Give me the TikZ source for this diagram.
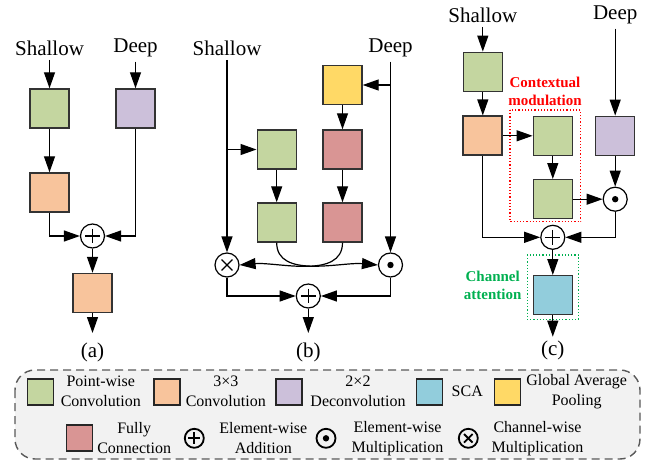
\documentclass[tikz,border=0pt]{standalone}
\usepackage{fontspec}
\setmainfont{Liberation Serif}
\usepackage{tikz}
\usetikzlibrary{calc}
\usetikzlibrary{arrows.meta}
\definecolor{pwgreen}{RGB}{196,214,160}
\definecolor{convorange}{RGB}{248,196,156}
\definecolor{deconvpurple}{RGB}{204,192,218}
\definecolor{gapyellow}{RGB}{255,217,102}
\definecolor{fcred}{RGB}{217,149,148}
\definecolor{scablue}{RGB}{146,205,220}
\definecolor{cmred}{RGB}{255,0,0}
\definecolor{cagreen}{RGB}{0,176,80}
\definecolor{legfill}{RGB}{242,242,242}
\tikzset{
  blk/.style={draw=black!80, line width=0.7pt, minimum size=19.5pt, inner sep=0pt},
  pwconv/.style={blk, fill=pwgreen},
  conv3/.style={blk, fill=convorange},
  deconv/.style={blk, fill=deconvpurple},
  gapool/.style={blk, fill=gapyellow},
  fcon/.style={blk, fill=fcred},
  scab/.style={blk, fill=scablue},
  legblk/.style={draw=black!85, line width=0.8pt, minimum size=13pt, inner sep=0pt},
  op/.style={circle, draw, line width=0.6pt, fill=white, minimum size=12pt, inner sep=0pt},
  legop/.style={circle, draw, line width=0.9pt, minimum size=9.5pt, inner sep=0pt},
  plussign/.style={path picture={
    \draw[black] ($(path picture bounding box.center)!0.62!(path picture bounding box.west)$) -- ($(path picture bounding box.center)!0.62!(path picture bounding box.east)$);
    \draw[black] ($(path picture bounding box.center)!0.62!(path picture bounding box.north)$) -- ($(path picture bounding box.center)!0.62!(path picture bounding box.south)$);}},
  crosssign/.style={path picture={
    \draw[black] ($(path picture bounding box.center)!0.45!(path picture bounding box.north west)$) -- ($(path picture bounding box.center)!0.45!(path picture bounding box.south east)$);
    \draw[black] ($(path picture bounding box.center)!0.45!(path picture bounding box.north east)$) -- ($(path picture bounding box.center)!0.45!(path picture bounding box.south west)$);}},
  dotsign/.style={path picture={\fill[black] (path picture bounding box.center) circle (1.6pt);}},
  addop/.style={op, plussign},
  mulop/.style={op, dotsign},
  chmulop/.style={op, crosssign},
  conn/.style={-{Triangle[length=8pt,width=5.5pt]}, line width=0.6pt},
  cmtxt/.style={text=cmred, font=\fontsize{7.5}{8.7}\selectfont\bfseries, align=center},
  catxt/.style={text=cagreen, font=\fontsize{7.5}{8.7}\selectfont\bfseries, align=center},
  legtxt/.style={font=\fontsize{8}{10}\selectfont, align=center, inner sep=1pt},
}

\begin{document}
\begin{tikzpicture}[x=0.5pt, y=-0.5pt, font=\fontsize{10.5}{12}\selectfont, inner sep=2pt]
        \useasboundingbox (0,0) rectangle (655,461);
        % (a)
        \node (sa) at (49.5,48) {Shallow};
        \node (da) at (135.5,48) {Deep};
        \node[pwconv] (a1) at (49.5,108.5) {};
        \node[deconv] (a2) at (135.5,108.5) {};
        \node[conv3] (a3) at (49.5,192.5) {};
        \node[addop] (a4) at (92.5,236) {};
        \node[conv3] (a5) at (92.5,293) {};
        \coordinate (ao) at (92.5,333);
        \node (la) at (92.5,352) {(a)};
        \draw[conn] (sa) -- (a1);
        \draw[conn] (da) -- (a2);
        \draw[conn] (a1) -- (a3);
        \draw[conn] (a3) |- (a4);
        \draw[conn] (a2) |- (a4);
        \draw[conn] (a4) -- (a5);
        \draw[conn] (a5) -- (ao);
        % (b)
        \node (sb) at (227,48) {Shallow};
        \node (db) at (390.5,48) {Deep};
        \node[gapool] (b1) at (342.5,85) {};
        \node[pwconv] (b2) at (276.7,149.5) {};
        \node[fcon] (b3) at (342.5,149.5) {};
        \node[pwconv] (b4) at (276.7,222.5) {};
        \node[fcon] (b5) at (342.5,222.5) {};
        \node[chmulop] (b6) at (227,265) {};
        \node[mulop] (b7) at (390.5,265) {};
        \node[addop] (b8) at (308.3,296) {};
        \coordinate (bo) at (308.3,333);
        \node (lb) at (308.3,352) {(b)};
        \draw[conn] (sb) -- (b6);
        \draw[conn] (db) -- (b7);
        \draw[conn] (b1.east -| db) -- (b1);
        \draw[conn] (b2 -| sb) -- (b2);
        \draw[conn] (b1) -- (b3);
        \draw[conn] (b2) -- (b4);
        \draw[conn] (b3) -- (b5);
        \draw[conn] (b4.south) to[out=-90, in=175, looseness=0.9] (b7.west);
        \draw[conn] (b5.south) to[out=-90, in=5, looseness=0.9] (b6.east);
        \draw[conn] (b6) |- (b8);
        \draw[conn] (b7) |- (b8);
        \draw[conn] (b8) -- (bo);
        % (c)
        \node (sc) at (482.8,15) {Shallow};
        \node (dc) at (615.2,15) {Deep};
        \node[pwconv] (c1) at (482.8,71.8) {};
        \node[conv3, line width=0.9pt] (c2) at (482.8,135.8) {};
        \node[pwconv] (c3) at (552.8,135.8) {};
        \node[pwconv] (c4) at (552.8,199.2) {};
        \node[deconv] (c5) at (615.2,135.8) {};
        \node[mulop] (c6) at (615.2,199.2) {};
        \node[addop] (c7) at (552.8,237.3) {};
        \node[scab] (c8) at (552.8,295.2) {};
        \coordinate (co) at (552.8,336.7);
        \node (lc) at (552.8,350) {(c)};
        \draw[cmred, densely dotted, line width=0.6pt] (510,110) rectangle (580.7,221.7);
        \draw[cagreen, densely dotted, line width=0.6pt] (527.3,255) rectangle (578.3,319.3);
        \node[cmtxt] (cm) at (545,91.3) {Contextual\\modulation};
        \node[catxt] (ca) at (492.7,285.3) {Channel\\attention};
        \draw[conn] (sc) -- (c1);
        \draw[conn] (dc) -- (c5);
        \draw[conn] (c1) -- (c2);
        \draw[conn] (c2) -- (c3);
        \draw[conn] (c3) -- (c4);
        \draw[conn] (c4) -- (c6);
        \draw[conn] (c5) -- (c6);
        \draw[conn] (c2) |- (c7);
        \draw[conn] (c6) |- (c7);
        \draw[conn] (c7) -- (c8);
        \draw[conn] (c8) -- (co);
        % legend
        \draw[draw=black!65, fill=legfill, line width=0.7pt, dash pattern=on 4pt off 2.5pt, rounded corners=10pt] (15,370) rectangle (640,459);
        \node[legblk, fill=pwgreen] (k1) at (40.3,391.7) {};
        \node[legtxt] (t1) at (100.8,391.7) {Point-wise\\Convolution};
        \node[legblk, fill=convorange] (k2) at (166.7,391.7) {};
        \node[legtxt] (t2) at (225.8,391.7) {3×3\\Convolution};
        \node[legblk, fill=deconvpurple] (k3) at (289,391.7) {};
        \node[legtxt] (t3) at (358,391.7) {2×2\\Deconvolution};
        \node[legblk, fill=scablue] (k4) at (429.5,391.7) {};
        \node[legtxt] (t4) at (467.3,391.7) {SCA};
        \node[legblk, fill=gapyellow] (k5) at (507.5,391.7) {};
        \node[legtxt] (t5) at (576.7,391.7) {Global Average\\Pooling};
        \node[legblk, fill=fcred] (k6) at (79.5,437.8) {};
        \node[legtxt] (t6) at (134.2,438.3) {Fully\\Connection};
        \node[legop, plussign] (k7) at (194.3,438.3) {};
        \node[legtxt] (t7) at (263.3,438.3) {Element-wise\\Addition};
        \node[legop, dotsign] (k8) at (326,438.3) {};
        \node[legtxt] (t8) at (397.5,438.3) {Element-wise\\Multiplication};
        \node[legop, crosssign] (k9) at (468.3,438.3) {};
        \node[legtxt] (t9) at (537.5,438.3) {Channel-wise\\Multiplication};
    \end{tikzpicture}
\end{document}
